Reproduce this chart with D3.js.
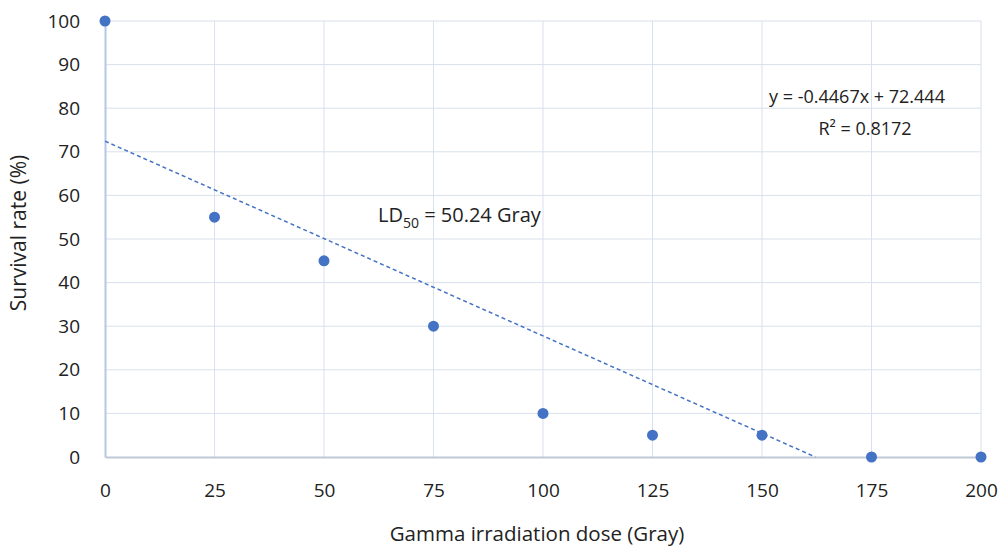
<!DOCTYPE html>
<html><head><meta charset="utf-8">
<script src="https://cdn.jsdelivr.net/npm/d3@7"></script>
<style>body{margin:0;background:#fff;} text{font-family:"Open Sans","Noto Sans",sans-serif;fill:#222;}</style>
</head><body><svg id="c" width="1001" height="548"></svg>
<script>
const doses = [0, 25, 50, 75, 100, 125, 150, 175, 200];
const survival = [100, 55, 45, 30, 10, 5, 5, 0, 0];
const xTicks = [0, 25, 50, 75, 100, 125, 150, 175, 200];
const yTicks = [0, 10, 20, 30, 40, 50, 60, 70, 80, 90, 100];
const slope = -0.4467, intercept = 72.444;

const svg = d3.select("#c");
const x = d3.scaleLinear().domain([0, 200]).range([105, 981]);
const y = d3.scaleLinear().domain([0, 100]).range([457, 21]);

// gridlines
svg.append("g").selectAll("line").data(yTicks.filter(d=>d>0)).join("line")
  .attr("x1", x(0)).attr("x2", x(200)).attr("y1", d=>y(d)).attr("y2", d=>y(d))
  .attr("stroke", "#d9e1ec").attr("stroke-width", 1);
svg.append("g").selectAll("line").data(xTicks.filter(d=>d>0)).join("line")
  .attr("y1", y(0)).attr("y2", y(100)).attr("x1", d=>x(d)).attr("x2", d=>x(d))
  .attr("stroke", "#d9e1ec").attr("stroke-width", 1);

// axes
const xAxis = d3.axisBottom(x).tickValues(xTicks).tickSize(0).tickPadding(27);
const gx = svg.append("g").attr("transform", `translate(0,${y(0)})`).call(xAxis);
gx.select(".domain").attr("stroke", "#bfc8d6").attr("stroke-width", 2);
gx.selectAll("text").style("font-size", "19px").attr("fill", "#222");

const yAxis = d3.axisLeft(y).tickValues(yTicks).tickSize(0).tickPadding(25);
const gy = svg.append("g").attr("transform", `translate(${x(0)},0)`).call(yAxis);
gy.select(".domain").attr("stroke", "#b4c7e7").attr("stroke-width", 2);
gy.selectAll("text").style("font-size", "19px").attr("fill", "#222");

// trendline
const xEnd = -intercept / slope;
svg.append("line")
  .attr("x1", x(0)).attr("y1", y(intercept))
  .attr("x2", x(xEnd)).attr("y2", y(0))
  .attr("stroke", "#4472c4").attr("stroke-width", 1.5).attr("stroke-dasharray", "4,3");

// points
svg.append("g").selectAll("circle").data(doses).join("circle")
  .attr("cx", d=>x(d)).attr("cy", (d,i)=>y(survival[i])).attr("r", 5.5)
  .attr("fill", "#4472c4");

// annotations
svg.append("text").attr("x", 857).attr("y", 103).attr("text-anchor", "middle")
  .style("font-size", "18px").text("y = -0.4467x + 72.444");
svg.append("text").attr("x", 865).attr("y", 135).attr("text-anchor", "middle")
  .style("font-size", "18px").text("R² = 0.8172");
const ld = svg.append("text").attr("x", 378).attr("y", 222).style("font-size", "20px");
ld.append("tspan").text("LD");
ld.append("tspan").attr("dy", 6).style("font-size", "14px").text("50");
ld.append("tspan").attr("dy", -6).text(" = 50.24 Gray");

// axis titles
svg.append("text").attr("x", 537).attr("y", 541).attr("text-anchor", "middle")
  .style("font-size", "20.5px").text("Gamma irradiation dose (Gray)");
svg.append("text").attr("transform", "translate(26,233) rotate(-90)").attr("text-anchor", "middle")
  .style("font-size", "21px").text("Survival rate (%)");
</script></body></html>
